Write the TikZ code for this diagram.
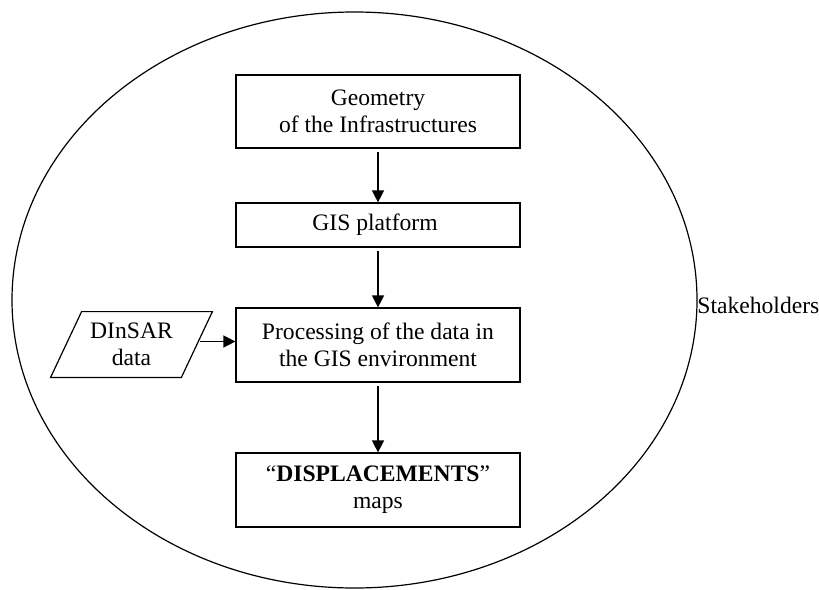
\documentclass[tikz,border=0pt]{standalone}
\usepackage{fontspec}
\setmainfont{Liberation Serif}
\usetikzlibrary{arrows.meta,shapes.geometric}

\begin{document}
\begin{tikzpicture}[x=0.5pt, y=-0.5pt,
		every block/.style={draw, line width=0.6pt, minimum width=142pt, align=center, inner sep=2pt},
		every input/.style={minimum width=65pt, minimum height=32.5pt, align=center, inner sep=0pt},
		flow/.style={-{Triangle[length=6pt, width=6pt]}, line width=0.7pt, shorten <=1.5pt},
		font=\fontsize{11.8}{13.4}\selectfont]
		\useasboundingbox (0,0) rectangle (819,589);
		\node [draw, ellipse, line width=0.6pt, minimum width=342.5pt, minimum height=288pt, inner sep=0pt] (stake) at (354.5,300) {};
		\node [anchor=west, inner sep=0pt] (stake-label) at (697,305) {Stakeholders};

		\node [every block/.try, minimum height=36.5pt] (geometry) at (378,111.5) {
			Geometry\\of the Infrastructures
		};
		\node [every block/.try, minimum height=22pt] (gis) at (378,225) {
			GIS platform
		};
		\node [every block/.try, minimum height=37pt] (processing) at (378,345) {
			Processing of the data in\\the GIS environment
		};
		\node [every block/.try, minimum height=37pt] (maps) at (378,490) {
			``\textbf{DISPLACEMENTS}''\\maps
		};
		\node [every input/.try] (dinsar) at (131.5,344.5) {
			DInSAR\\data
		};
		\draw [line width=0.6pt] ([xshift=7.75pt]dinsar.north west) -- ([xshift=7.75pt]dinsar.north east)
			-- ([xshift=-7.75pt]dinsar.south east) -- ([xshift=-7.75pt]dinsar.south west) -- cycle;

		\draw [flow] (geometry) -- (gis);
		\draw [flow] (gis) -- (processing);
		\draw [flow] (processing) -- (maps);
		\draw [flow] ([yshift=1.5pt]dinsar.east) -- ([yshift=1.5pt]dinsar.east -| processing.west);

	\end{tikzpicture}
\end{document}
